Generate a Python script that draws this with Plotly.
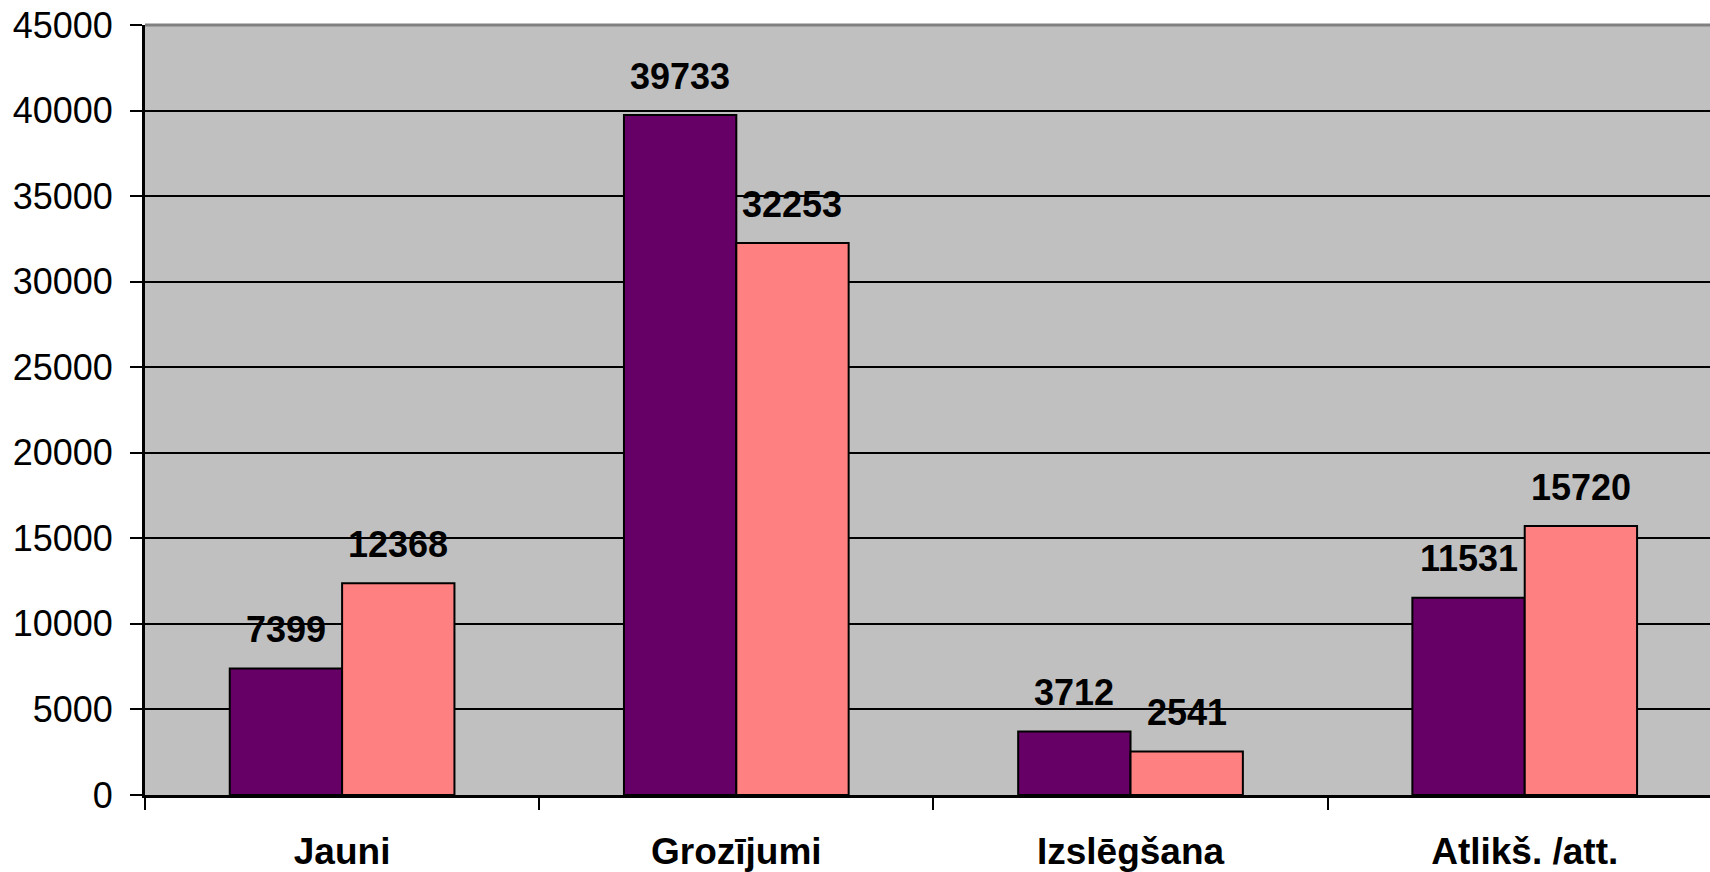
import plotly.graph_objects as go

categories = ["Jauni", "Grozījumi", "Izslēgšana", "Atlikš. /att."]
series_a = [7399, 39733, 3712, 11531]
series_b = [12368, 32253, 2541, 15720]
y_ticks = [0, 5000, 10000, 15000, 20000, 25000, 30000, 35000, 40000, 45000]
y_tick_text = ["0", "5000", "10000", "15000", "20000", "25000", "30000", "35000", "40000", "45000"]

color_a = "#660066"
color_b = "#FF8080"
font_family = "Liberation Sans, Arial, sans-serif"

fig = go.Figure()
fig.add_trace(go.Bar(x=categories, y=series_a, marker=dict(color=color_a, line=dict(color="black", width=2))))
fig.add_trace(go.Bar(x=categories, y=series_b, marker=dict(color=color_b, line=dict(color="black", width=2))))

bargap = 0.43
half = (1 - bargap) / 4
for i, (a, b) in enumerate(zip(series_a, series_b)):
    for off, v in ((-half, a), (half, b)):
        fig.add_annotation(x=i + off, y=v, text=f"<b>{v}</b>", showarrow=False,
                           yanchor="middle", yshift=39,
                           font=dict(family=font_family, size=36, color="black"))

fig.add_shape(type="line", xref="paper", yref="paper", x0=0, x1=1, y0=1, y1=1,
              line=dict(color="#808080", width=3))

fig.update_layout(
    width=1710, height=872,
    margin=dict(l=145, r=0, t=25, b=77),
    paper_bgcolor="white", plot_bgcolor="#C0C0C0",
    barmode="group", bargap=bargap, bargroupgap=0,
    showlegend=False,
    font=dict(family=font_family, size=36, color="black"),
    xaxis=dict(type="category", range=[-0.5, 3.47], tickson="boundaries",
               ticks="outside", ticklen=12, tickwidth=2, tickcolor="black",
               showline=True, linecolor="black", linewidth=3, showgrid=False,
               tickfont=dict(family=font_family, size=37, color="black", weight="bold"),
               ticklabelstandoff=22),
    yaxis=dict(range=[0, 45000], tickvals=y_ticks, ticktext=y_tick_text, ticks="outside", ticklen=12,
               tickwidth=2, tickcolor="black", showline=True, linecolor="black",
               linewidth=3, showgrid=True, gridcolor="black", gridwidth=2,
               zeroline=False, tickfont=dict(family=font_family, size=36, color="black"),
               ticklabelstandoff=10),
)

fig.write_html("out.html", config={"displayModeBar": False},
               post_script="document.body.style.margin='0';document.body.style.overflow='hidden';")
